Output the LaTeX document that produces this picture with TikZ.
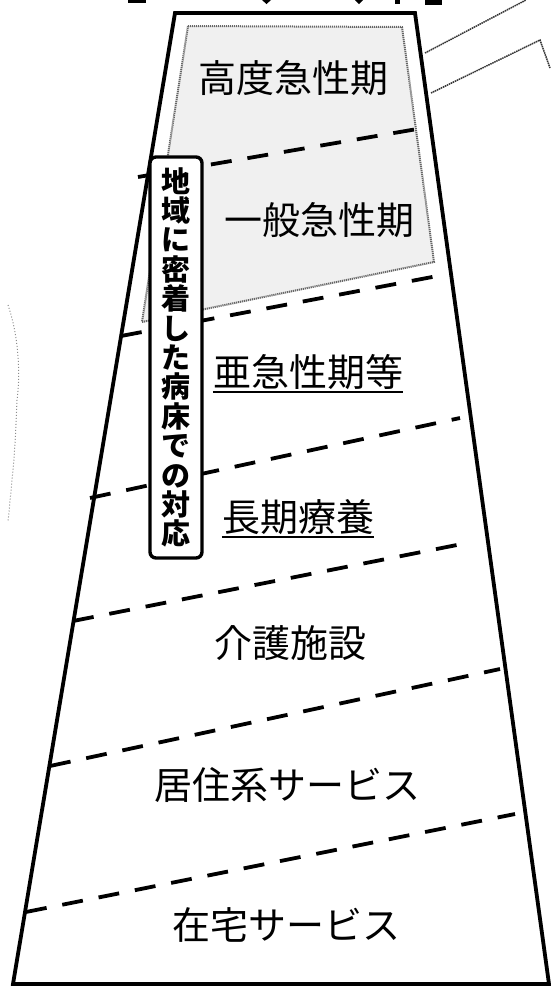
\documentclass[tikz,border=0pt]{standalone}
\usepackage{fontspec}
\usetikzlibrary{calc}
\newfontfamily\jp{Noto Sans CJK JP}
\begin{document}
\begin{tikzpicture}[x=1pt,y=-1pt,
  outline/.style={line width=3.8pt,line join=miter},
  sepline/.style={line width=3.8pt,dash pattern=on 21pt off 16pt},
  graybox/.style={black!60,line width=2pt,dash pattern=on 1.2pt off 0.8pt},
  callout/.style={black!80,line width=1.5pt,dash pattern=on 1.5pt off 0.7pt},
  lbl/.style={font=\jp\fontsize{38}{40}\selectfont,inner sep=0pt},
  uline/.style={line width=2pt},
  labelbox/.style={draw,fill=white,line width=3.4pt,rounded corners=6pt,
    minimum width=52pt,minimum height=401pt,inner sep=0pt,align=center,
    font=\jp\bfseries\fontsize{29}{29.4}\selectfont}]
\useasboundingbox (0,0) rectangle (550,986);
% top fragments of a cropped title
\fill (128,0) rectangle (146,3);
\fill (262,0) -- (271,0) -- (266.5,4) -- cycle;
\fill (355,0) -- (363,0) -- (359,4) -- cycle;
\fill (395,0) rectangle (400,4);
\fill (425,0) rectangle (442,5);
% shaded acute-care region
\coordinate (g1) at (188,26);
\coordinate (g2) at (402,27);
\coordinate (g3) at (434,262);
\coordinate (g4) at (142,322);
\fill[black!6] (g1) -- (g2) -- (g3) -- (g4) -- cycle;
\draw[graybox] (g1) -- (g2) -- (g3) -- (g4) -- cycle;
% dashed separators
\coordinate (d1a) at (138,177); \coordinate (d1b) at (423,128);
\coordinate (d2a) at (121,336); \coordinate (d2b) at (448,274);
\coordinate (d3a) at (90,498);  \coordinate (d3b) at (460,418);
\coordinate (d4a) at (73,621);  \coordinate (d4b) at (472,542);
\coordinate (d5a) at (50,766);  \coordinate (d5b) at (500,669);
\coordinate (d6a) at (26,912);  \coordinate (d6b) at (515,814);
\foreach \i in {1,...,6} {\draw[sepline] (d\i a) -- (d\i b);}
% outer trapezoid
\coordinate (TL) at (175,13);
\coordinate (TR) at (415,13);
\coordinate (BR) at (549,984);
\coordinate (BL) at (13,984);
\draw[outline] (TL) -- (TR) -- (BR) -- (BL) -- cycle;
% callout lines at upper right
\coordinate (a1) at (425,53); \coordinate (a2) at (526,0);
\coordinate (b1) at (431,93); \coordinate (b2) at (540,40); \coordinate (b3) at (550,68);
\draw[callout] (a1) -- (a2);
\draw[callout] (b1) -- (b2) -- (b3);
% faint trace at left
\coordinate (f1) at (8,305); \coordinate (f2) at (17,400); \coordinate (f3) at (8,522);
\draw[black!45,line width=1pt,dotted] (f1) .. controls (20,340) and (20,380) .. (f2) .. controls (15,450) .. (f3);
% vertical label
\node[labelbox] (side) at (176,357.5) {地\\域\\に\\密\\着\\し\\た\\病\\床\\で\\の\\対\\応};
% stage labels
\node[lbl] (t1) at (293,78) {高度急性期};
\node[lbl] (t2) at (319,220) {一般急性期};
\node[lbl] (t3) at (308,372) {亜急性期等};
\node[lbl] (t4) at (298,517) {長期療養};
\node[lbl] (t5) at (290,643) {介護施設};
\node[lbl] (t6) at (287,785) {居住系サービス};
\node[lbl] (t7) at (286,925) {在宅サービス};
\draw[uline] ($(t3.south west)+(0,2)$) -- ($(t3.south east)+(0,2)$);
\draw[uline] ($(t4.south west)+(0,2)$) -- ($(t4.south east)+(0,2)$);
\end{tikzpicture}
\end{document}
